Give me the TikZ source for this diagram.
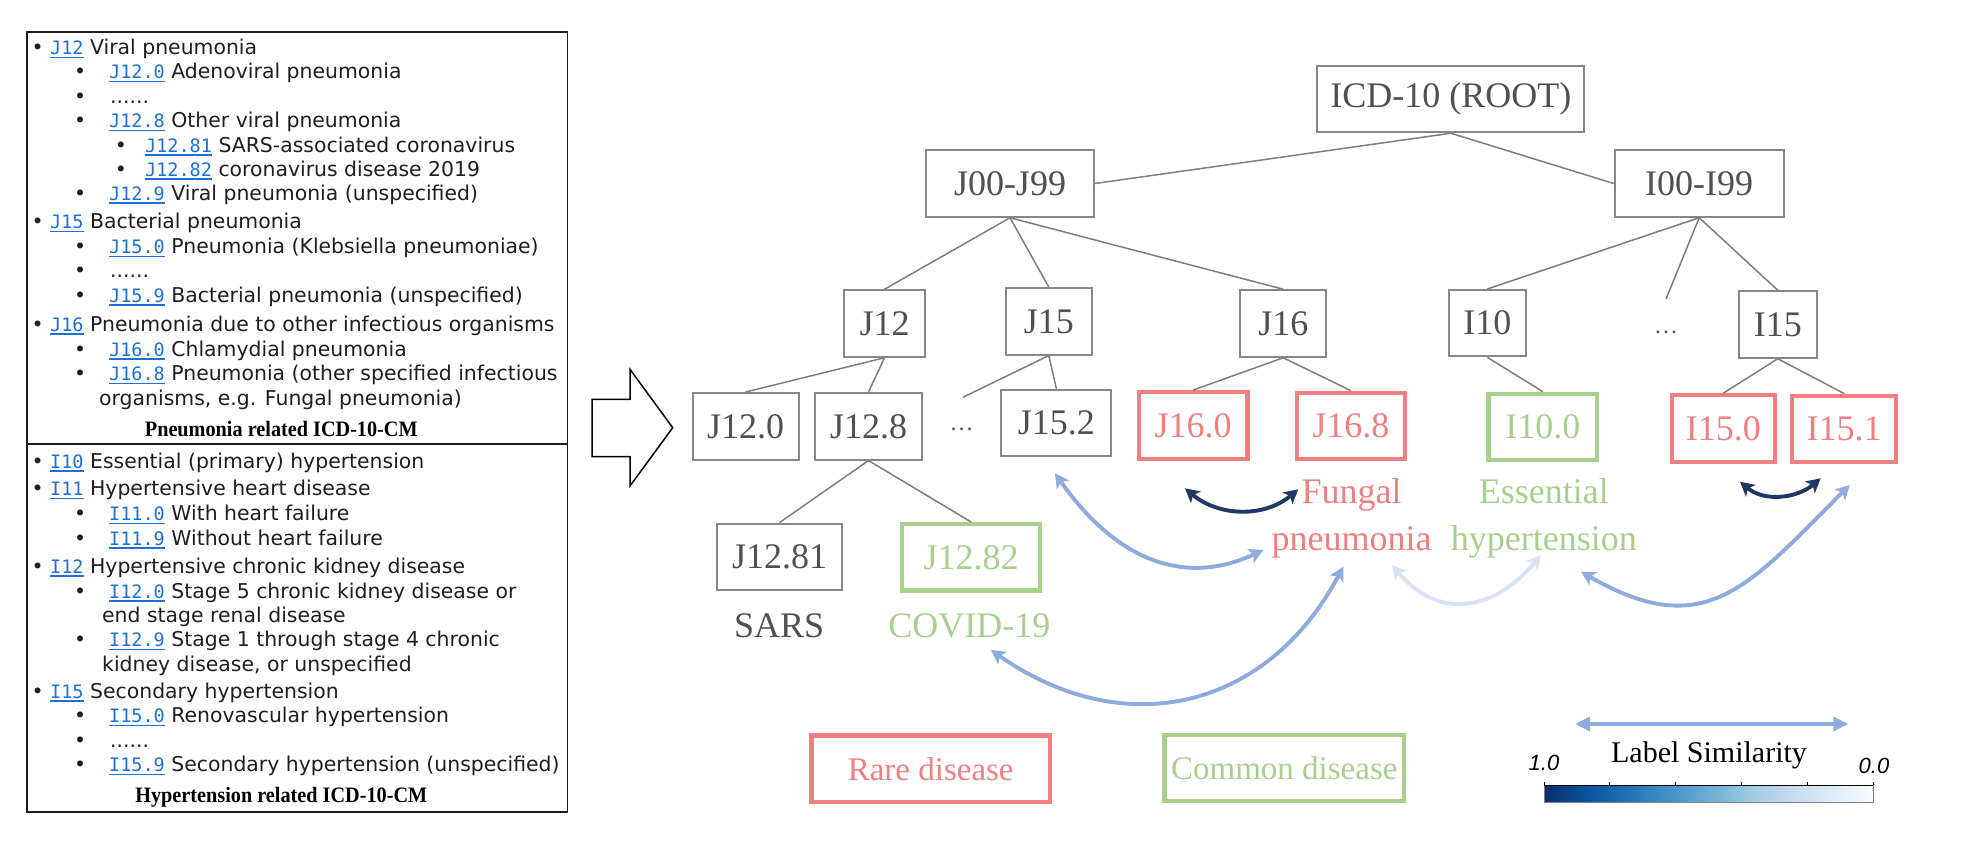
\documentclass[tikz,border=0pt]{standalone}
\usepackage{fontspec}
\setmainfont{Liberation Serif}
\newfontfamily\listfont{DejaVu Sans}
\newfontfamily\codefont{DejaVu Sans Mono}
\newfontfamily\capfont[FakeStretch=0.92]{Liberation Serif}
\newfontfamily\legfont{Liberation Sans}
\usepackage{xcolor}
\usetikzlibrary{arrows.meta, positioning}

\definecolor{listblack}{RGB}{30,30,30}
\definecolor{codeblue}{RGB}{30,112,215}
\definecolor{nodegray}{RGB}{135,135,135}
\definecolor{textgray}{RGB}{80,80,80}
\definecolor{linegray}{RGB}{125,125,125}
\definecolor{rarered}{RGB}{240,128,128}
\definecolor{commongreen}{RGB}{168,208,141}
\definecolor{simblue}{RGB}{143,170,220}
\definecolor{simnavy}{RGB}{32,56,100}
\definecolor{simfaint}{RGB}{218,227,243}
% Blues colour map, dark to white
\definecolor{bl0}{HTML}{08306B}
\definecolor{bl1}{HTML}{08519C}
\definecolor{bl2}{HTML}{2171B5}
\definecolor{bl3}{HTML}{4292C6}
\definecolor{bl4}{HTML}{6BAED6}
\definecolor{bl5}{HTML}{9ECAE1}
\definecolor{bl6}{HTML}{C6DBEF}
\definecolor{bl7}{HTML}{DEEBF7}
\definecolor{bl8}{HTML}{F7FBFF}
\pgfdeclarehorizontalshading{bluesbar}{100bp}{color(0bp)=(bl0); color(25bp)=(bl0);
	color(31.25bp)=(bl1); color(37.5bp)=(bl2); color(43.75bp)=(bl3); color(50bp)=(bl4);
	color(56.25bp)=(bl5); color(62.5bp)=(bl6); color(68.75bp)=(bl7); color(75bp)=(bl8);
	color(100bp)=(bl8)}

% blue underlined code of the list
\newcommand{\icd}[1]{{\color{codeblue}\codefont\fontsize{18.5}{24}\selectfont
	\setbox0\hbox{#1}\rlap{\rule[-3.5pt]{\wd0}{1.5pt}}\box0}}

\tikzset{
	icdbox/.style={draw=nodegray, line width=2pt, text=textgray, inner sep=0pt,
		minimum height=66.5pt, font=\fontsize{36}{40}\selectfont},
	rare/.style={icdbox, draw=rarered, text=rarered, line width=4.3pt},
	common/.style={icdbox, draw=commongreen, text=commongreen, line width=4.3pt},
	branch/.style={draw=linegray, line width=1.5pt},
	tag/.style={inner sep=0pt, font=\fontsize{36}{47}\selectfont},
	listtext/.style={anchor=base west, inner sep=0pt, text=listblack,
		font=\listfont\fontsize{20.4}{24}\selectfont},
	panel/.style={draw=listblack, line width=1.8pt},
	simarrow/.style={line width=3.9pt,
		{Stealth[length=14pt,width=15pt,inset=3.5pt]}-{Stealth[length=14pt,width=15pt,inset=3.5pt]}},
	legarrow/.style={draw=simblue, line width=3.3pt,
		{Triangle[length=15pt,width=14pt]}-{Triangle[length=15pt,width=14pt]}}
}

\begin{document}
\begin{tikzpicture}[x=1pt, y=1pt]
	\useasboundingbox (0,0) rectangle (1974,-858);
	
	% ---------- left panel: ICD-10-CM lists ----------
	\draw[panel] (26.9,-31.7) rectangle (567.4,-444.3);
	\draw[panel] (26.9,-444.3) rectangle (567.4,-811.7);
	
	% top level codes
	\foreach \y/\code/\txt [count=\i] in {55/J12/Viral pneumonia, 229/J15/Bacterial pneumonia,
		331.5/J16/Pneumonia due to other infectious organisms,
		468/I10/Essential (primary) hypertension, 495.5/I11/Hypertensive heart disease,
		573/I12/Hypertensive chronic kidney disease, 698/I15/Secondary hypertension}{
		\node[listtext] (top\i) at (31.5,-\y) {• \icd{\code} \txt};
	}
	% second level codes
	\foreach \y/\code/\txt [count=\i] in {79/J12.0/Adenoviral pneumonia,
		128/J12.8/Other viral pneumonia, 200.5/J12.9/{Viral pneumonia (unspecified)},
		254/J15.0/{Pneumonia (Klebsiella pneumoniae)}, 302.5/J15.9/{Bacterial pneumonia (unspecified)},
		356.5/J16.0/Chlamydial pneumonia, 381/J16.8/{Pneumonia (other specified infectious},
		520.5/I11.0/With heart failure, 545/I11.9/Without heart failure,
		598/I12.0/{Stage 5 chronic kidney disease or}, 646.5/I12.9/{Stage 1 through stage 4 chronic},
		722.5/I15.0/Renovascular hypertension, 771.5/I15.9/{Secondary hypertension (unspecified)}}{
		\node[listtext] (sb\i) at (74,-\y) {•};
		\node[listtext] (st\i) at (109,-\y) {\icd{\code} \txt};
	}
	% third level codes
	\foreach \y/\code/\txt [count=\i] in {152.5/J12.81/SARS-associated coronavirus,
		176.5/J12.82/coronavirus disease 2019}{
		\node[listtext] (tb\i) at (114.6,-\y) {•};
		\node[listtext] (tt\i) at (145,-\y) {\icd{\code} \txt};
	}
	% skipped entries
	\foreach \y [count=\i] in {103.5, 278, 747}{
		\node[listtext] (db\i) at (74,-\y) {•};
		\node[listtext] (dt\i) at (110,-\y) {......};
	}
	% wrapped lines
	\node[listtext] (wrap1) at (99,-405.5) {organisms, e.g. Fungal pneumonia)};
	\node[listtext] (wrap2) at (102,-622.5) {end stage renal disease};
	\node[listtext] (wrap3) at (102,-671.5) {kidney disease, or unspecified};
	
	\node[anchor=base, inner sep=0pt, font=\capfont\bfseries\fontsize{22}{24}\selectfont]
		(pcap) at (281.3,-436.6) {Pneumonia related ICD-10-CM};
	\node[anchor=base, inner sep=0pt, font=\capfont\bfseries\fontsize{22}{24}\selectfont]
		(hcap) at (281.3,-802) {Hypertension related ICD-10-CM};
	
	% big outline arrow
	\draw[line width=1.5pt, fill=white] (592,-399.3) -- (630,-399.3) -- (630,-369.3)
		-- (672.7,-427.7) -- (630,-486) -- (630,-456.7) -- (592,-456.7) -- cycle;
	
	% ---------- ICD-10 tree ----------
	\node[icdbox, minimum width=267pt] (root) at (1450.9,-99) {ICD-10 (ROOT)};
	\node[icdbox, minimum width=168pt] (j00) at (1010,-183.5) {J00-J99};
	\node[icdbox, minimum width=169pt] (i00) at (1699.2,-183.5) {I00-I99};
	
	\node[icdbox, minimum width=80.6pt] (j12) at (884.5,-323.5) {J12};
	\node[icdbox, minimum width=86pt] (j15) at (1048.8,-321.3) {J15};
	\node[icdbox, minimum width=86pt] (j16) at (1283.3,-323.5) {J16};
	\node[icdbox, minimum width=77pt] (i10) at (1487.4,-323.2) {I10};
	\node[icdbox, minimum width=78pt] (i15) at (1777.8,-324.5) {I15};
	
	\node[icdbox, minimum width=106pt] (j120) at (745.5,-426.3) {J12.0};
	\node[icdbox, minimum width=106.5pt] (j128) at (868.5,-426.3) {J12.8};
	\node[icdbox, minimum width=110pt] (j152) at (1056.4,-423) {J15.2};
	\node[rare, minimum width=108.7pt] (j160) at (1193,-425.5) {J16.0};
	\node[rare, minimum width=108pt] (j168) at (1350.8,-426) {J16.8};
	\node[common, minimum width=108.7pt] (i100) at (1542.8,-427) {I10.0};
	\node[rare, minimum width=103.2pt] (i150) at (1723.4,-428.5) {I15.0};
	\node[rare, minimum width=104pt] (i151) at (1844.2,-429) {I15.1};
	
	\node[icdbox, minimum width=125pt] (j1281) at (779.6,-556.8) {J12.81};
	\node[common, minimum width=137.7pt] (j1282) at (971,-557.3) {J12.82};
	
	% omitted siblings
	\node[tag, text=textgray, anchor=base, font=\fontsize{24}{26}\selectfont] (jdots) at (961.5,-431) {…};
	\node[tag, text=textgray, anchor=base, font=\fontsize{24}{26}\selectfont] (idots) at (1666,-334) {…};
	\coordinate (jstub) at (962.9,-397.3);
	\coordinate (istub) at (1666,-299);
	
	% branches
	\draw[branch] (root.south) -- (j00.east);
	\draw[branch] (root.south) -- (i00.west);
	\foreach \c in {j12, j15, j16}
		\draw[branch] (j00.south) -- (\c.north);
	\draw[branch] (i00.south) -- (i10.north);
	\draw[branch] (i00.south) -- (istub);
	\draw[branch] (i00.south) -- (i15.north);
	\draw[branch] (j12.south) -- (j120.north);
	\draw[branch] (j12.south) -- (j128.north);
	\draw[branch] (j15.south) -- (jstub);
	\draw[branch] (j15.south) -- (j152.north);
	\draw[branch] (j16.south) -- (j160.north);
	\draw[branch] (j16.south) -- (j168.north);
	\draw[branch] (i10.south) -- (i100.north);
	\draw[branch] (i15.south) -- (i150.north);
	\draw[branch] (i15.south) -- (i151.north);
	\draw[branch] (j128.south) -- (j1281.north);
	\draw[branch] (j128.south) -- (j1282.north);
	
	% disease names
	\node[tag, text=textgray, anchor=base] (sars) at (779.2,-637.3) {SARS};
	\node[tag, text=commongreen, anchor=base] (covid) at (969.4,-637.3) {COVID-19};
	\node[tag, text=rarered, align=center, anchor=north] (fungal) at (1351.7,-478.7) {Fungal\\pneumonia};
	\node[tag, text=commongreen, align=center, anchor=north] (essential) at (1543.8,-478.7) {Essential\\hypertension};
	
	% label similarity arrows
	\coordinate (n16a) at (1185,-488.3);
	\coordinate (n16b) at (1298.3,-489.3);
	\coordinate (n15a) at (1740,-481.7);
	\coordinate (n15b) at (1820.7,-478.3);
	\coordinate (s152) at (1055,-473.3);
	\coordinate (sfung) at (1263.3,-550);
	\coordinate (scovid) at (991,-650);
	\coordinate (sfung2) at (1343.3,-566.7);
	\coordinate (sfung3) at (1392,-565);
	\coordinate (sess) at (1541,-555);
	\coordinate (sess2) at (1581,-571.7);
	\coordinate (s151) at (1849.7,-485);
	
	\draw[simarrow, simnavy] (n16a) to[out=-40, in=-140] (n16b);
	\draw[simarrow, simnavy] (n15a) to[out=-40, in=-140] (n15b);
	\draw[simarrow, simblue] (s152) to[out=-55, in=-155, looseness=1.1] (sfung);
	\draw[simarrow, simblue] (scovid) to[out=-35, in=-118, looseness=1.15] (sfung2);
	\draw[simarrow, simfaint] (sfung3) to[out=-50, in=-130, looseness=1.25] (sess);
	\draw[simarrow, simblue] (sess2) to[out=-30, in=-135, looseness=1.3] (s151);
	
	% ---------- legend ----------
	\node[rare, minimum width=238.7pt, font=\fontsize{33}{36}\selectfont] (rarebox) at (930.7,-768.8) {Rare disease};
	\node[common, minimum width=239.7pt, minimum height=65.7pt, font=\fontsize{33}{36}\selectfont] (commonbox) at (1284.3,-768) {Common disease};
	
	\coordinate (legl) at (1575,-724);
	\coordinate (legr) at (1848.3,-724);
	\draw[legarrow] (legl) -- (legr);
	\node[anchor=base, inner sep=0pt, font=\fontsize{30}{32}\selectfont] (simlabel) at (1709,-762.7) {Label Similarity};
	\node[anchor=base, inner sep=0pt, font=\legfont\itshape\fontsize{22}{24}\selectfont] (one) at (1544,-770) {1.0};
	\node[anchor=base, inner sep=0pt, font=\legfont\itshape\fontsize{22}{24}\selectfont] (zero) at (1874,-773.3) {0.0};
	
	% colour bar
	\shade[shading=bluesbar] (1544,-785) rectangle (1873.3,-802.7);
	\draw[gray, line width=0.8pt] (1544,-785) rectangle (1873.3,-802.7);
	\draw[black, line width=1pt] (1544,-785) -- (1873.3,-785);
	\foreach \t in {0,...,5}
		\draw[black, line width=0.8pt] (1544+\t*65.86,-785) -- ++(0,3);
	
\end{tikzpicture}
\end{document}
